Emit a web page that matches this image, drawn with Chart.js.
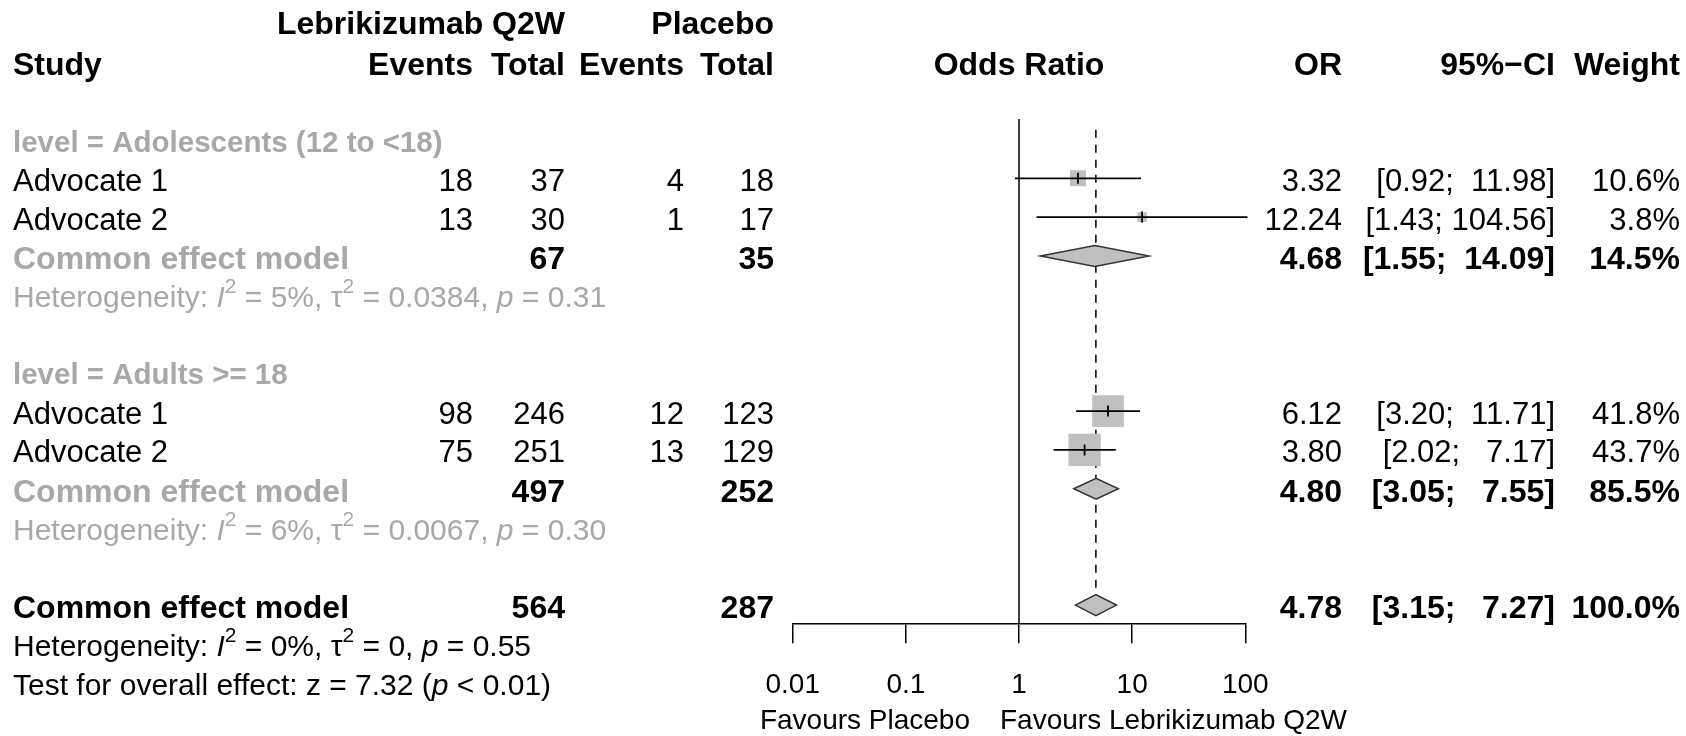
<!DOCTYPE html>
<html>
<head>
<meta charset="utf-8">
<title>Forest plot - Lebrikizumab Q2W vs Placebo</title>
<script src="https://cdn.jsdelivr.net/npm/chart.js@4.4.1/dist/chart.umd.min.js"></script>
<style>
  html, body { margin: 0; padding: 0; background: #fff; }
  #wrap { width: 1686px; height: 736px; }
</style>
</head>
<body>
<div id="wrap"><canvas id="forest" width="1686" height="736"></canvas></div>
<script>
// ---- data ----
const groupLabels = ['level = Adolescents (12 to <18)', 'level = Adults >= 18'];
const studyNames = ['Advocate 1', 'Advocate 2', 'Advocate 1', 'Advocate 2'];
const eventsLeb = [18, 13, 98, 75];
const totalLeb = [37, 30, 246, 251];
const eventsPla = [4, 1, 12, 13];
const totalPla = [18, 17, 123, 129];
const oddsRatio = [3.32, 12.24, 6.12, 3.80];
const ciLower = [0.92, 1.43, 3.20, 2.02];
const ciUpper = [11.98, 104.56, 11.71, 7.17];
const weights = [10.6, 3.8, 41.8, 43.7];

// two subgroup common effect models + overall
const summaryLabel = 'Common effect model';
const summaryTotalLeb = [67, 497, 564];
const summaryTotalPla = [35, 252, 287];
const summaryOR = [4.68, 4.80, 4.78];
const summaryLower = [1.55, 3.05, 3.15];
const summaryUpper = [14.09, 7.55, 7.27];
const summaryWeight = [14.5, 85.5, 100.0];
const hetI2 = ['5%', '6%', '0%'];
const hetTau2 = ['0.0384', '0.0067', '0'];
const hetP = ['0.31', '0.30', '0.55'];
const overallZ = '7.32';
const overallP = '< 0.01';

const tickValues = [0.01, 0.1, 1, 10, 100];
const tickLabels = ['0.01', '0.1', '1', '10', '100'];
const labelLeft = 'Favours Placebo';
const labelRight = 'Favours Lebrikizumab Q2W';

// ---- layout ----
const studyRow = [1, 2, 7, 8];
const groupRow = [0, 6];
const summaryRow = [3, 9, 12];
const hetRow = [4, 10, 13];
const testRow = 14;

const ROW_PX = 38.8;       // distance between rows
const FIRST_ROW_PX = 139.5; // pixel centre of row 0
const AXIS_Y = 623.3;

const FONT = '"Liberation Sans", Arial, Helvetica, sans-serif';
const TXT = 31, TXT_B = 32, TXT_R = 30, TXT_G = 29.5;
const GREY = '#a8a8a8';

const col = { study: 13, evE: 473, totE: 565, evC: 684, totC: 774, or: 1342, ci: 1555, w: 1680 };

const fmtLo = ciLower.concat(summaryLower).map(v => v.toFixed(2));
const fmtUp = ciUpper.concat(summaryUpper).map(v => v.toFixed(2));
const loW = Math.max(...fmtLo.map(s => s.length));
const upW = Math.max(...fmtUp.map(s => s.length));
const ciText = (lo, up) => '[' + lo.toFixed(2).padStart(loW) + '; ' + up.toFixed(2).padStart(upW) + ']';

function put(ctx, str, x, y, opt = {}) {
  const size = opt.size || (opt.bold ? TXT_B : TXT);
  ctx.font = (opt.bold ? 'bold ' : '') + size + 'px ' + FONT;
  ctx.fillStyle = opt.color || '#000';
  ctx.textAlign = opt.align || 'left';
  ctx.textBaseline = 'middle';
  ctx.fillText(str, x, y);
}

function putRich(ctx, parts, x, y, color) {
  let cx = x;
  ctx.textAlign = 'left';
  ctx.textBaseline = 'middle';
  ctx.fillStyle = color;
  parts.forEach(p => {
    const size = p.sup ? TXT_R * 0.7 : TXT_R;
    ctx.font = (p.it ? 'italic ' : '') + size + 'px ' + FONT;
    ctx.fillText(p.t, cx, p.sup ? y - TXT_R * 0.38 : y);
    cx += ctx.measureText(p.t).width;
  });
}

const hetParts = i => [
  { t: 'Heterogeneity: ' }, { t: 'I', it: true }, { t: '2', sup: true },
  { t: ' = ' + hetI2[i] + ', ' }, { t: '\u03C4' }, { t: '2', sup: true },
  { t: ' = ' + hetTau2[i] + ', ' }, { t: 'p', it: true }, { t: ' = ' + hetP[i] }
];

const forestPlugin = {
  id: 'forestExtras',
  beforeDatasetsDraw(chart) {
    const { ctx, scales: { x, y } } = chart;
    ctx.save();
    ctx.strokeStyle = '#000';
    ctx.lineWidth = 1.5;
    // line of no effect
    const x1 = x.getPixelForValue(1);
    ctx.beginPath();
    ctx.moveTo(x1, y.getPixelForValue(-0.53));
    ctx.lineTo(x1, y.bottom);
    ctx.stroke();
    // overall estimate, dashed
    const xo = x.getPixelForValue(summaryOR[2]);
    ctx.setLineDash([8, 7]);
    ctx.beginPath();
    ctx.moveTo(xo, y.getPixelForValue(-0.25));
    ctx.lineTo(xo, y.getPixelForValue(summaryRow[2] - 0.26));
    ctx.stroke();
    ctx.restore();
  },
  afterDatasetsDraw(chart) {
    const { ctx, scales: { x, y } } = chart;
    ctx.save();
    ctx.fillStyle = '#c0c0c0';
    ctx.strokeStyle = '#333';
    ctx.lineWidth = 1.5;
    summaryOR.forEach((v, i) => {
      const r = summaryRow[i];
      ctx.beginPath();
      ctx.moveTo(x.getPixelForValue(summaryLower[i]), y.getPixelForValue(r));
      ctx.lineTo(x.getPixelForValue(v), y.getPixelForValue(r - 0.27));
      ctx.lineTo(x.getPixelForValue(summaryUpper[i]), y.getPixelForValue(r));
      ctx.lineTo(x.getPixelForValue(v), y.getPixelForValue(r + 0.27));
      ctx.closePath();
      ctx.fill();
      ctx.stroke();
    });
    ctx.restore();
  },
  afterDraw(chart) {
    const { ctx, scales: { x, y } } = chart;
    const ty = r => y.getPixelForValue(r) + 4;
    ctx.save();
    // headers
    put(ctx, 'Lebrikizumab Q2W', col.totE, 25, { bold: true, align: 'right' });
    put(ctx, 'Placebo', col.totC, 25, { bold: true, align: 'right' });
    const hy = 66;
    put(ctx, 'Study', col.study, hy, { bold: true });
    put(ctx, 'Events', col.evE, hy, { bold: true, align: 'right' });
    put(ctx, 'Total', col.totE, hy, { bold: true, align: 'right' });
    put(ctx, 'Events', col.evC, hy, { bold: true, align: 'right' });
    put(ctx, 'Total', col.totC, hy, { bold: true, align: 'right' });
    put(ctx, 'Odds Ratio', (x.left + x.right) / 2, hy, { bold: true, align: 'center' });
    put(ctx, 'OR', col.or, hy, { bold: true, align: 'right' });
    put(ctx, '95%\u2212CI', col.ci, hy, { bold: true, align: 'right' });
    put(ctx, 'Weight', col.w, hy, { bold: true, align: 'right' });

    groupLabels.forEach((g, i) => put(ctx, g, col.study, ty(groupRow[i]), { bold: true, size: TXT_G, color: GREY }));

    studyNames.forEach((s, i) => {
      const yy = ty(studyRow[i]);
      put(ctx, s, col.study, yy);
      put(ctx, String(eventsLeb[i]), col.evE, yy, { align: 'right' });
      put(ctx, String(totalLeb[i]), col.totE, yy, { align: 'right' });
      put(ctx, String(eventsPla[i]), col.evC, yy, { align: 'right' });
      put(ctx, String(totalPla[i]), col.totC, yy, { align: 'right' });
      put(ctx, oddsRatio[i].toFixed(2), col.or, yy, { align: 'right' });
      put(ctx, ciText(ciLower[i], ciUpper[i]), col.ci, yy, { align: 'right' });
      put(ctx, weights[i].toFixed(1) + '%', col.w, yy, { align: 'right' });
    });

    summaryOR.forEach((v, i) => {
      const yy = ty(summaryRow[i]);
      const overall = i === summaryOR.length - 1;
      put(ctx, summaryLabel, col.study, yy, { bold: true, color: overall ? '#000' : GREY });
      put(ctx, String(summaryTotalLeb[i]), col.totE, yy, { bold: true, align: 'right' });
      put(ctx, String(summaryTotalPla[i]), col.totC, yy, { bold: true, align: 'right' });
      put(ctx, v.toFixed(2), col.or, yy, { bold: true, align: 'right' });
      put(ctx, ciText(summaryLower[i], summaryUpper[i]), col.ci, yy, { bold: true, align: 'right' });
      put(ctx, summaryWeight[i].toFixed(1) + '%', col.w, yy, { bold: true, align: 'right' });
      putRich(ctx, hetParts(i), col.study, ty(hetRow[i]), overall ? '#000' : GREY);
    });

    putRich(ctx, [
      { t: 'Test for overall effect: z = ' + overallZ + ' (' }, { t: 'p', it: true }, { t: ' ' + overallP + ')' }
    ], col.study, ty(testRow), '#000');

    // direction labels under the axis
    const x1 = x.getPixelForValue(1);
    put(ctx, labelLeft, x1 - 49, 721, { size: 28, align: 'right' });
    put(ctx, labelRight, x1 - 19, 721, { size: 28 });
    ctx.restore();
  }
};

const squareSide = w => 4.9 * Math.sqrt(w);

const datasets = [];
// weight squares
datasets.push({
  data: oddsRatio.map((v, i) => ({ x: v, y: studyRow[i] })),
  pointStyle: 'rect',
  pointRadius: c => squareSide(weights[c.dataIndex]) / Math.SQRT2,
  backgroundColor: '#c0c0c0',
  borderWidth: 0,
  order: 3
});
// confidence intervals
oddsRatio.forEach((v, i) => {
  datasets.push({
    data: [{ x: ciLower[i], y: studyRow[i] }, { x: ciUpper[i], y: studyRow[i] }],
    showLine: true,
    borderColor: '#000',
    borderWidth: 1.8,
    pointRadius: 0,
    clip: false,
    order: 2
  });
});
// point estimates
datasets.push({
  data: oddsRatio.map((v, i) => ({ x: v, y: studyRow[i] })),
  pointStyle: 'line',
  rotation: 90,
  pointRadius: 5.5,
  borderColor: '#000',
  borderWidth: 1.8,
  order: 1
});

const chart = new Chart(document.getElementById('forest'), {
  type: 'scatter',
  data: { datasets },
  options: {
    responsive: false,
    devicePixelRatio: 1,
    animation: false,
    events: [],
    layout: { padding: { left: 792.7, right: 440.7, top: 0, bottom: 0 } },
    plugins: { legend: { display: false }, tooltip: { enabled: false } },
    scales: {
      x: {
        type: 'logarithmic',
        position: 'bottom',
        min: tickValues[0],
        max: tickValues[tickValues.length - 1],
        afterBuildTicks: s => { s.ticks = tickValues.map(v => ({ value: v })); },
        afterFit: s => { s.height = 736 - AXIS_Y; },
        ticks: {
          autoSkip: false,
          maxRotation: 0,
          padding: 25,
          color: '#000',
          font: { family: FONT, size: 28 },
          callback: (v, i) => tickLabels[i]
        },
        grid: { drawOnChartArea: false, drawTicks: true, tickLength: 20, color: '#000', lineWidth: 1.5 },
        border: { display: true, color: '#000', width: 1.5 }
      },
      y: {
        type: 'linear',
        reverse: true,
        min: -3.6,
        max: 12.5,
        display: false
      }
    }
  },
  plugins: [forestPlugin]
});

// fit the row scale to the real chart area so each row sits ROW_PX apart
const area = chart.chartArea;
const yMin = -(FIRST_ROW_PX - area.top) / ROW_PX;
chart.options.scales.y.min = yMin;
chart.options.scales.y.max = yMin + (area.bottom - area.top) / ROW_PX;
chart.update();
</script>
</body>
</html>
